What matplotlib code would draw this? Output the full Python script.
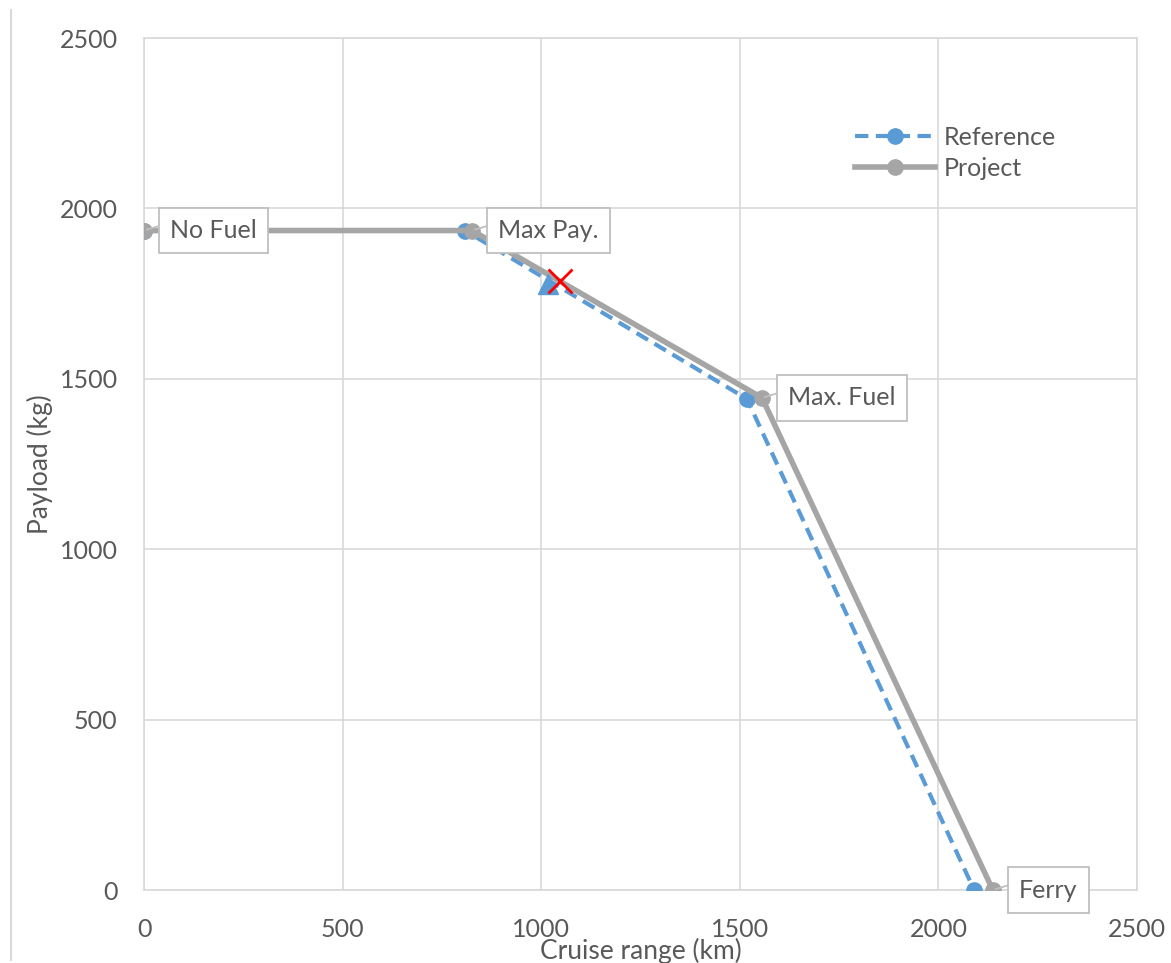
import matplotlib
matplotlib.use("Agg")
import matplotlib.pyplot as plt
from matplotlib.lines import Line2D

plt.rcParams['font.family'] = ['Lato', 'DejaVu Sans']

# payload-range points: No Fuel, Max Payload, Max Fuel, Ferry
ref_range = [0, 808, 1518, 2090]
ref_payload = [1935, 1935, 1441, 0]
proj_range = [0, 826, 1556, 2137]
proj_payload = [1935, 1935, 1444, 0]
point_names = ['No Fuel', 'Max Pay.', 'Max. Fuel', 'Ferry']

# design point markers
tri_range, tri_payload = 1017, 1778
cross_range, cross_payload = 1047, 1787

txt = '#595959'
grid = '#d9d9d9'
blue = '#5b9bd5'
gray = '#a5a5a5'
fs = 18

fig = plt.figure(figsize=(11.71, 9.63), dpi=100)
ax = fig.add_axes([144 / 1171, 1 - 890 / 963, (1137 - 144) / 1171, (890 - 38) / 963])

ax.plot(ref_range, ref_payload, color=blue, lw=3, ls=(0, (3.2, 1.8)), marker='o', ms=11,
        label='Reference', zorder=3)
ax.plot(proj_range, proj_payload, color=gray, lw=4, marker='o', ms=11,
        label='Project', zorder=4)
ax.plot(tri_range, tri_payload, marker='^', color=blue, ms=15, ls='none', zorder=5)
ax.plot(cross_range, cross_payload, marker='x', color='#ff0000', ms=17, mew=2, ls='none', zorder=6)

for x, y, name in zip(proj_range, proj_payload, point_names):
    ax.annotate(name, (x, y), xytext=(19, 0), textcoords='offset points',
                ha='left', va='center', fontsize=fs, color=txt, zorder=7,
                bbox=dict(boxstyle='square,pad=0.45', fc='white', ec='#bfbfbf', lw=1.3),
                arrowprops=dict(arrowstyle='-', color='#bfbfbf', lw=1.3,
                                relpos=(0, 0.85), shrinkA=0, shrinkB=2))

ax.set_xlim(0, 2500)
ax.set_ylim(0, 2500)
ax.set_xticks(range(0, 2501, 500))
ax.set_yticks(range(0, 2501, 500))
ax.grid(True, color=grid, lw=1.2)
ax.set_axisbelow(True)
for s in ax.spines.values():
    s.set_color(grid)
    s.set_linewidth(1.2)
ax.tick_params(length=0, labelsize=fs, labelcolor=txt)
ax.tick_params(axis='x', pad=20)
ax.tick_params(axis='y', pad=19)

ax.set_xlabel('Cruise range (km)', fontsize=fs + 1, color=txt, labelpad=-2)
ax.set_ylabel('Payload (kg)', fontsize=fs + 1, color=txt, labelpad=5)

ax.legend(loc='upper left', bbox_to_anchor=(855 / 1171, 1 - 126 / 963),
          bbox_transform=fig.transFigure, frameon=False, fontsize=fs,
          handlelength=3.2, handletextpad=0.35, labelspacing=0.3,
          borderpad=0, borderaxespad=0, labelcolor=txt)

# thin border strip on the left edge of the figure
fig.add_artist(Line2D([11 / 1171, 11 / 1171], [0.003, 1 - 10 / 963],
                      transform=fig.transFigure, color=grid, lw=1.5))

fig.savefig('out.png', dpi=100)
